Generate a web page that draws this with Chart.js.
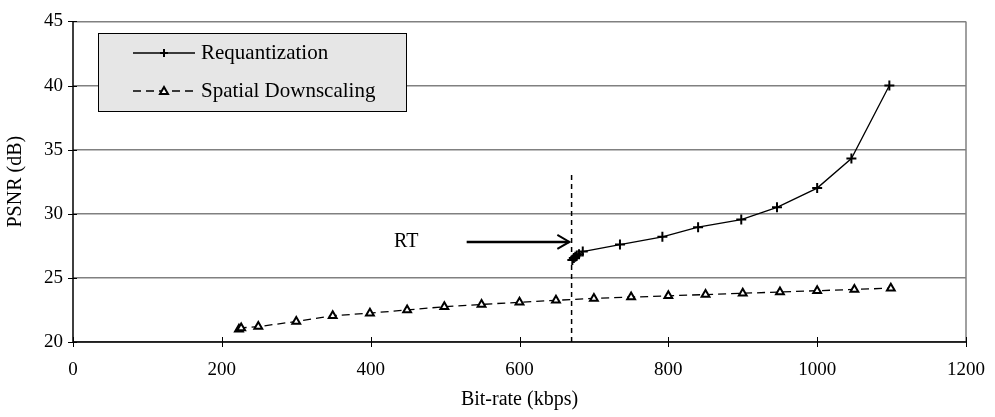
<!DOCTYPE html>
<html>
<head>
<meta charset="utf-8">
<script src="https://cdn.jsdelivr.net/npm/chart.js@4.4.1/dist/chart.umd.min.js"></script>
<style>
  html, body { margin: 0; padding: 0; background: #fff; }
  canvas { display: block; }
</style>
</head>
<body>
<canvas id="grafico" width="995" height="417"></canvas>
<script>
// datos
const requantX = [671, 673, 675, 677, 680, 685, 735, 792, 840, 898, 946, 1000, 1046, 1097];
const requantY = [26.4, 26.55, 26.65, 26.75, 26.85, 27.05, 27.6, 28.2, 28.95, 29.55, 30.5, 32.0, 34.3, 40.0];

const spatialX = [223, 226, 249, 300, 349, 399, 449, 499, 549, 600, 649, 700, 750, 800, 850, 900, 950, 1000, 1050, 1099];
const spatialY = [21.0, 21.1, 21.2, 21.6, 22.05, 22.25, 22.5, 22.75, 22.93, 23.1, 23.25, 23.4, 23.5, 23.6, 23.7, 23.8, 23.9, 24.0, 24.1, 24.2];

const rtX = [670, 670];
const rtY = [20, 33.2];
const flechaX = [529, 667];
const flechaY = [27.8, 27.8];

const xTicks = [0, 200, 400, 600, 800, 1000, 1200];
const yTicks = [20, 25, 30, 35, 40, 45];

const nombres = ['Requantization', 'Spatial Downscaling'];
const fuente = '"Liberation Serif", "DejaVu Serif", serif';

function puntos(xs, ys) {
    return xs.map((x, i) => ({ x: x, y: ys[i] }));
}

// leyenda, bordes, flecha y titulos
const extras = {
    id: 'extras',
    afterDraw(chart) {
        const ctx = chart.ctx;
        const area = chart.chartArea;
        const sx = chart.scales.x;
        const sy = chart.scales.y;

        ctx.save();
        // borde derecho gris
        ctx.strokeStyle = '#808080';
        ctx.lineWidth = 1.5;
        ctx.beginPath();
        ctx.moveTo(area.right, area.top);
        ctx.lineTo(area.right, area.bottom);
        ctx.stroke();

        // ejes negros
        ctx.strokeStyle = '#000';
        ctx.lineWidth = 1.5;
        ctx.beginPath();
        ctx.moveTo(area.left, area.top);
        ctx.lineTo(area.left, area.bottom);
        ctx.lineTo(area.right, area.bottom);
        ctx.stroke();

        // marcas que cruzan el eje
        ctx.lineWidth = 1;
        xTicks.forEach(v => {
            const px = Math.round(sx.getPixelForValue(v)) + 0.5;
            ctx.beginPath();
            ctx.moveTo(px, area.bottom - 5);
            ctx.lineTo(px, area.bottom + 5);
            ctx.stroke();
        });
        yTicks.forEach(v => {
            const py = Math.round(sy.getPixelForValue(v)) + 0.5;
            ctx.beginPath();
            ctx.moveTo(area.left - 5, py);
            ctx.lineTo(area.left + 4, py);
            ctx.stroke();
        });

        // punta de flecha RT
        const ax = sx.getPixelForValue(flechaX[1]);
        const ay = sy.getPixelForValue(flechaY[1]);
        ctx.lineWidth = 2;
        ctx.beginPath();
        ctx.moveTo(ax - 12, ay - 7);
        ctx.lineTo(ax, ay);
        ctx.lineTo(ax - 12, ay + 7);
        ctx.stroke();

        ctx.fillStyle = '#000';
        ctx.font = '20px ' + fuente;
        ctx.textAlign = 'left';
        ctx.textBaseline = 'middle';
        ctx.fillText('RT', 394, ay);

        // leyenda
        const lx = 98, ly = 33, lw = 308, lh = 78;
        ctx.fillStyle = '#e6e6e6';
        ctx.fillRect(lx, ly, lw, lh);
        ctx.strokeStyle = '#000';
        ctx.lineWidth = 1;
        ctx.strokeRect(lx + 0.5, ly + 0.5, lw, lh);

        const filas = [ly + 20, ly + 58];
        // Requantization
        ctx.lineWidth = 1.3;
        ctx.setLineDash([]);
        ctx.beginPath();
        ctx.moveTo(133, filas[0]);
        ctx.lineTo(195, filas[0]);
        ctx.stroke();
        ctx.lineWidth = 2;
        ctx.beginPath();
        ctx.moveTo(164 - 4, filas[0]);
        ctx.lineTo(164 + 4, filas[0]);
        ctx.moveTo(164, filas[0] - 4);
        ctx.lineTo(164, filas[0] + 4);
        ctx.stroke();
        // Spatial
        ctx.lineWidth = 1.3;
        ctx.setLineDash([8, 5]);
        ctx.beginPath();
        ctx.moveTo(133, filas[1]);
        ctx.lineTo(195, filas[1]);
        ctx.stroke();
        ctx.setLineDash([]);
        ctx.lineWidth = 2;
        ctx.fillStyle = '#fff';
        ctx.beginPath();
        ctx.moveTo(164, filas[1] - 4);
        ctx.lineTo(168, filas[1] + 3);
        ctx.lineTo(160, filas[1] + 3);
        ctx.closePath();
        ctx.fill();
        ctx.stroke();

        ctx.fillStyle = '#000';
        ctx.font = '21px ' + fuente;
        ctx.fillText(nombres[0], 201, filas[0]);
        ctx.fillText(nombres[1], 201, filas[1]);

        // titulos de ejes
        ctx.font = '20px ' + fuente;
        ctx.textAlign = 'center';
        ctx.fillText('Bit-rate (kbps)', (area.left + area.right) / 2, 400);
        ctx.save();
        ctx.translate(16, (area.top + area.bottom) / 2);
        ctx.rotate(-Math.PI / 2);
        ctx.fillText('PSNR (dB)', 0, 0);
        ctx.restore();
        ctx.restore();
    }
};

new Chart(document.getElementById('grafico'), {
    type: 'line',
    data: {
        datasets: [
            {
                label: nombres[0],
                data: puntos(requantX, requantY),
                borderColor: '#000',
                borderWidth: 1.3,
                pointStyle: 'cross',
                pointRadius: 5,
                pointBorderWidth: 2,
                pointBorderColor: '#000',
                tension: 0
            },
            {
                label: nombres[1],
                data: puntos(spatialX, spatialY),
                borderColor: '#000',
                borderWidth: 1.3,
                borderDash: [8, 5],
                pointStyle: 'triangle',
                pointRadius: 4.5,
                pointBorderWidth: 2,
                pointBorderColor: '#000',
                pointBackgroundColor: '#fff',
                tension: 0
            },
            {
                label: 'RT',
                data: puntos(rtX, rtY),
                borderColor: '#000',
                borderWidth: 1.5,
                borderDash: [5, 4],
                pointRadius: 0
            },
            {
                label: 'flecha',
                data: puntos(flechaX, flechaY),
                borderColor: '#000',
                borderWidth: 2.5,
                pointRadius: 0
            }
        ]
    },
    options: {
        responsive: false,
        animation: false,
        layout: { padding: { left: 0, right: 29, top: 12, bottom: 0 } },
        plugins: {
            legend: { display: false },
            tooltip: { enabled: false }
        },
        scales: {
            x: {
                type: 'linear',
                min: 0,
                max: 1200,
                afterBuildTicks: s => { s.ticks = xTicks.map(v => ({ value: v })); },
                afterFit: s => { s.height = 75; },
                grid: {
                    display: true,
                    drawOnChartArea: false,
                    drawTicks: true,
                    tickLength: 8,
                    tickColor: 'rgba(0,0,0,0)',
                    color: 'rgba(0,0,0,0)'
                },
                border: { display: false },
                ticks: {
                    color: '#000',
                    padding: 9,
                    maxRotation: 0,
                    callback: v => String(v),
                    font: { family: fuente, size: 19 }
                }
            },
            y: {
                min: 20,
                max: 45,
                afterBuildTicks: s => { s.ticks = yTicks.map(v => ({ value: v })); },
                afterFit: s => { s.width = 73; },
                grid: { color: '#808080', lineWidth: 1.5, drawTicks: false },
                border: { display: false },
                ticks: {
                    color: '#000',
                    padding: 10,
                    font: { family: fuente, size: 19 }
                }
            }
        }
    },
    plugins: [extras]
});
</script>
</body>
</html>
